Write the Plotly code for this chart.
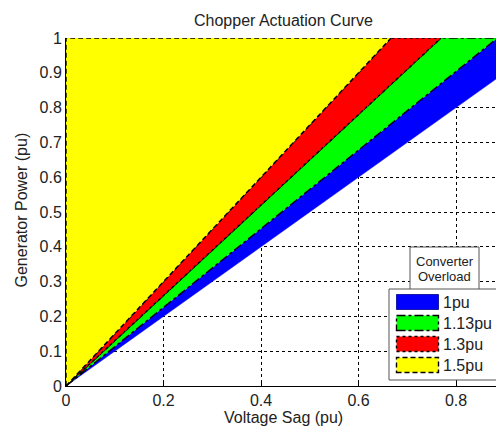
import plotly.graph_objects as go

# ---- data ----
overload_pu = [1.0, 1.13, 1.3, 1.5]           # converter overload ratings (slope of P = k * sag)
legend_labels = ["1pu", "1.13pu", "1.3pu", "1.5pu"]
fill_colors = ["#0000FF", "#00FF00", "#FF0000", "#FFFF00"]
edge_dash = ["solid", "dashdot", "dot", "5px,3px"]
edge_colors = ["#0000FF", "#000000", "#000000", "#000000"]
sag_max = 0.882
power_max = 1.0
sag_ticks = [0, 0.2, 0.4, 0.6, 0.8]
power_ticks = [0, 0.1, 0.2, 0.3, 0.4, 0.5, 0.6, 0.7, 0.8, 0.9, 1.0]

FONT = "Liberation Sans, Arial, sans-serif"
W, H = 496, 430
L, R, T, B = 66, 0, 38, 44
PW, PH = W - L - R, H - T - B


def px2x(px):
    return (px - L) / PW


def py2y(py):
    return (H - B - py) / PH


fig = go.Figure()
for i, k in enumerate(overload_pu):
    x_low_end = power_max / k
    x_up_end = power_max / overload_pu[i + 1] if i + 1 < len(overload_pu) else 0.0
    xs = [0, x_low_end, x_up_end, 0]
    ys = [0, power_max, power_max, 0]
    fig.add_trace(go.Scatter(
        x=xs, y=ys, mode="lines", fill="toself",
        fillcolor=fill_colors[i],
        line=dict(color=edge_colors[i], width=1.4 if i else 0.5, dash=edge_dash[i]),
        name=legend_labels[i], showlegend=False, hoverinfo="skip",
    ))

shapes = []
annotations = []

# "Converter Overload" title box
shapes.append(dict(type="rect", xref="paper", yref="paper",
                   x0=px2x(410), x1=px2x(479), y0=py2y(290), y1=py2y(247),
                   fillcolor="white", line=dict(color="#555555", width=1), layer="above"))
annotations.append(dict(text="Converter", xref="paper", yref="paper", x=px2x(444.5), y=py2y(261.5),
                        showarrow=False, xanchor="center", yanchor="middle",
                        font=dict(family=FONT, size=13, color="#222222")))
annotations.append(dict(text="Overload", xref="paper", yref="paper", x=px2x(444.5), y=py2y(276.5),
                        showarrow=False, xanchor="center", yanchor="middle",
                        font=dict(family=FONT, size=13, color="#222222")))

# legend box
shapes.append(dict(type="rect", xref="paper", yref="paper",
                   x0=px2x(389), x1=px2x(510), y0=py2y(380), y1=py2y(289),
                   fillcolor="white", line=dict(color="#555555", width=1), layer="above"))
patch_tops = [294.5, 315.5, 336.5, 357.5]
for i in range(len(overload_pu)):
    top = patch_tops[i]
    shapes.append(dict(type="rect", xref="paper", yref="paper",
                       x0=px2x(396.5), x1=px2x(438.5), y0=py2y(top + 15), y1=py2y(top),
                       fillcolor=fill_colors[i],
                       line=dict(color="#000000" if i else "#00008B", width=1.4 if i else 0.8,
                                 dash=edge_dash[i]),
                       layer="above"))
    annotations.append(dict(text=legend_labels[i], xref="paper", yref="paper",
                            x=px2x(441), y=py2y(top + 8), showarrow=False,
                            xanchor="left", yanchor="middle",
                            font=dict(family=FONT, size=16, color="#222222")))

# titles
annotations.append(dict(text="Chopper Actuation Curve", xref="paper", yref="paper",
                        x=px2x(283), y=py2y(20), showarrow=False, xanchor="center", yanchor="middle",
                        font=dict(family=FONT, size=16, color="#222222")))
annotations.append(dict(text="Voltage Sag (pu)", xref="paper", yref="paper",
                        x=px2x(283), y=py2y(418), showarrow=False, xanchor="center", yanchor="middle",
                        font=dict(family=FONT, size=16, color="#222222")))
annotations.append(dict(text="Generator Power (pu)", xref="paper", yref="paper",
                        x=px2x(21.5), y=py2y(210), showarrow=False, xanchor="center", yanchor="middle",
                        textangle=-90, font=dict(family=FONT, size=16, color="#222222")))

axis_common = dict(
    showline=True, linecolor="#000000", linewidth=1,
    ticks="inside", ticklen=5, tickcolor="#000000", tickwidth=1,
    showgrid=True, gridcolor="#000000", gridwidth=1, griddash="3px,3px",
    zeroline=False, layer="below traces", automargin=False,
    tickfont=dict(family=FONT, size=16, color="#222222"),
)

fig.update_layout(
    width=W, height=H,
    margin=dict(l=L, r=R, t=T, b=B, pad=0),
    paper_bgcolor="white", plot_bgcolor="white",
    showlegend=False,
    xaxis=dict(range=[0, sag_max], tickvals=sag_ticks, ticktext=[f"{v:g}" for v in sag_ticks], **axis_common),
    yaxis=dict(range=[0, power_max], tickvals=power_ticks, ticktext=[f"{v:g}" for v in power_ticks], **axis_common),
    shapes=shapes, annotations=annotations,
)

fig.write_html("out.html")
